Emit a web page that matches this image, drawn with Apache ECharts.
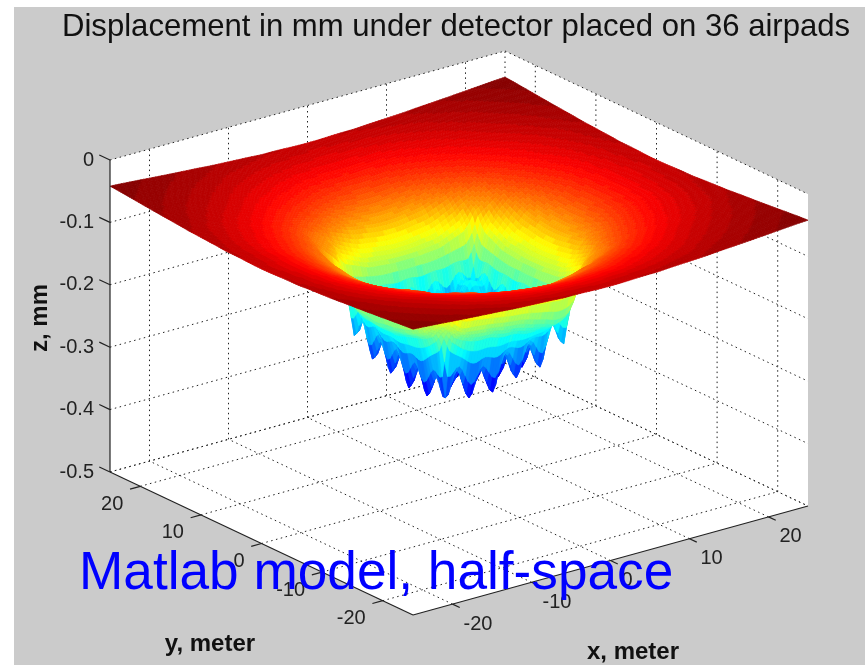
<!DOCTYPE html>
<html><head><meta charset="utf-8">
<style>html,body{margin:0;padding:0;background:#fff}#c{width:865px;height:665px}</style>
<script src="https://cdn.jsdelivr.net/npm/echarts@6/dist/echarts.min.js"></script>
</head><body><div id="c"></div>
<script>
// ---- data ----
const titleText = 'Displacement in mm under detector placed on 36 airpads';
const noteText = 'Matlab model, half-space';
const xTicks = [-20,-10,0,10,20];
const yTicks = [-20,-10,0,10,20];
const zTicks = [0,-0.1,-0.2,-0.3,-0.4,-0.5];
const zTickLabels = ['0','-0.1','-0.2','-0.3','-0.4','-0.5'];
// distances from the centre at which the displacement was read (metres)
const nodes = [0,1.5,3,4.5,6,7.5,8.25,9,10.5,12,14,16,18.5,21.5,25];
// displacement (mm), one row per node of |x|, one column per node of |y|
const row00 = [-.255,-.262,-.250,-.250,-.240,-.225,-.200,-.175,-.155,-.132,-.112,-.0966,-.0825,-.070,-.060];
const row01 = [-.262,-.310,-.262,-.305,-.255,-.260,-.203,-.175,-.154,-.131,-.111,-.096,-.082,-.0698,-.0598];
const row02 = [-.250,-.262,-.245,-.250,-.238,-.225,-.200,-.173,-.151,-.128,-.109,-.0945,-.081,-.069,-.059];
const row03 = [-.250,-.305,-.250,-.300,-.245,-.255,-.200,-.171,-.148,-.125,-.106,-.092,-.0802,-.0686,-.0585];
const row04 = [-.240,-.255,-.238,-.245,-.218,-.220,-.195,-.163,-.140,-.118,-.102,-.0895,-.0785,-.0675,-.0583];
const row05 = [-.225,-.260,-.225,-.255,-.220,-.245,-.195,-.155,-.130,-.111,-.097,-.086,-.0759,-.0665,-.057];
const row06 = [-.200,-.203,-.200,-.200,-.195,-.195,-.175,-.143,-.122,-.106,-.0945,-.0845,-.0747,-.0657,-.0565];
const row07 = [-.175,-.175,-.173,-.171,-.163,-.155,-.143,-.126,-.116,-.1037,-.092,-.083,-.0735,-.065,-.056];
const row08 = [-.155,-.154,-.151,-.148,-.140,-.130,-.122,-.116,-.107,-.097,-.0875,-.0795,-.071,-.063,-.055];
const row09 = [-.132,-.131,-.128,-.125,-.118,-.111,-.106,-.1037,-.097,-.0904,-.083,-.0759,-.0686,-.0615,-.054];
const row10 = [-.112,-.111,-.109,-.106,-.102,-.097,-.0945,-.092,-.0875,-.083,-.0767,-.071,-.065,-.0583,-.052];
const row11 = [-.0966,-.096,-.0945,-.092,-.0895,-.086,-.0845,-.083,-.0795,-.0759,-.071,-.066,-.061,-.0557,-.0503];
const row12 = [-.0825,-.082,-.081,-.0802,-.0785,-.0759,-.0747,-.0735,-.071,-.0686,-.065,-.061,-.057,-.0525,-.048];
const row13 = [-.070,-.0698,-.069,-.0686,-.0675,-.0665,-.0657,-.065,-.063,-.0615,-.0583,-.0557,-.0525,-.049,-.045];
const row14 = [-.060,-.0598,-.059,-.0585,-.0583,-.057,-.0565,-.056,-.055,-.054,-.052,-.0503,-.048,-.045,-.042];
const quarter = [row00,row01,row02,row03,row04,row05,row06,row07,row08,row09,row10,row11,row12,row13,row14];
// readings along the front pad rows, where the drop hangs clear of the surface
const frontRowY = [7.5,6,4.5,3,1.5,0,-1.5,-3,-4.5,-6,-7.5];
const frontRowLeftZ = [-.262,-.223,-.286,-.249,-.295,-.256,-.305,-.264,-.304,-.267,-.2935];
const frontRowX = [-6,-4.5,-3,-1.5,0,1.5,3,4.5,6,7.5];
const frontRowRightZ = [-.254,-.304,-.264,-.305,-.246,-.293,-.240,-.286,-.219,-.259];
// readings on the visible front wall, from its colours and page height
const wallYs = [7.5,6,4.5,3,1.5,0,-1.5,-3,-4.5,-6,-7.5,-8.25,-9,-10.5];
const wallLeft105 = [-.145,-.165,-.18,-.19,-.192,-.195,-.192,-.19,-.186,-.18,-.172,-.162,-.152,-.140];
const wallLeft90  = [-.17,-.19,-.205,-.21,-.215,-.215,-.215,-.21,-.205,-.20,-.19,-.178,-.168,-.152];
const wallLeft825 = [-.195,-.205,-.23,-.225,-.24,-.235,-.245,-.24,-.245,-.23,-.215,-.192,-.178,-.162];
const wallXs = [-10.5,-9,-8.25,-7.5,-6,-4.5,-3,-1.5,0,1.5,3,4.5,6,7.5];
const wallRight105 = [-.140,-.152,-.162,-.168,-.170,-.172,-.175,-.178,-.18,-.185,-.19,-.195,-.185,-.14];
const wallRight90  = [-.152,-.168,-.178,-.19,-.20,-.205,-.205,-.21,-.21,-.215,-.215,-.215,-.20,-.165];
const wallRight825 = [-.162,-.178,-.192,-.215,-.23,-.245,-.24,-.245,-.235,-.24,-.23,-.23,-.21,-.195];

// ---- view: orthographic projection of the plot box onto the page ----
const view = {x0:459,y0:489,xx:7.9,xy:-2.18,yx:-6.06,yy:-2.86,zy:-624,zFloor:-0.5,lim:25,cMin:-0.33,cMax:-0.041};
const project = (x,y,z)=>[view.x0+view.xx*x+view.yx*y, view.y0+view.xy*x+view.yy*y+view.zy*(z-view.zFloor)];

// mirror the quarter table to the whole surface, then apply the front readings
const grid = nodes.slice(1).reverse().map(v=>-v).concat(nodes);
const nAll = grid.length;
const leftWalls = new Map([[-10.5,wallLeft105],[-9,wallLeft90],[-8.25,wallLeft825]]);
const rightWalls = new Map([[-10.5,wallRight105],[-9,wallRight90],[-8.25,wallRight825]]);
const zAt = (a,b)=>{
  const n = nodes.length-1, gx=grid[a], gy=grid[b];
  if(gx===-7.5){ const k=frontRowY.indexOf(gy); if(k>=0) return frontRowLeftZ[k]; }
  if(gy===-7.5){ const k=frontRowX.indexOf(gx); if(k>=0) return frontRowRightZ[k]; }
  if(leftWalls.has(gx)){ const k=wallYs.indexOf(gy); if(k>=0) return leftWalls.get(gx)[k]; }
  if(rightWalls.has(gy)){ const k=wallXs.indexOf(gx); if(k>=0) return rightWalls.get(gy)[k]; }
  return quarter[Math.abs(a-n)][Math.abs(b-n)];
};
const clampI = v=>Math.max(0,Math.min(nAll-1,v));
const cr = (p0,p1,p2,p3,t)=>0.5*((2*p1)+(-p0+p2)*t+(2*p0-5*p1+4*p2-p3)*t*t+(-p0+3*p1-3*p2+p3)*t*t*t);
function smooth(a,s,b,t){
  const col = [];
  for(let k=-1;k<=2;k++){
    const A = clampI(a+k);
    col.push(cr(zAt(A,clampI(b-1)),zAt(A,b),zAt(A,clampI(b+1)),zAt(A,clampI(b+2)),t));
  }
  return cr(col[0],col[1],col[2],col[3],s);
}
const jet = t=>{
  const c = v=>Math.round(255*Math.max(0,Math.min(1,v)));
  return 'rgb('+c(Math.min(4*t-1.5,-4*t+4.5))+','+c(Math.min(4*t-0.5,-4*t+3.5))+','+c(Math.min(4*t+0.5,-4*t+2.5))+')';
};
const bandColor = z=>{
  const t = (z-view.cMin)/(view.cMax-view.cMin);
  const k = Math.max(0,Math.min(63,Math.floor(t*64)));
  return jet((k+0.5)/64);
};
const steps = i=>Math.ceil((grid[i+1]-grid[i])/0.375);

// back-to-front list of cells
const cells = [];
for(let i=nAll-2;i>=0;i--) for(let j=nAll-2;j>=0;j--) cells.push([i,j]);

function renderCell(params,api){
  const i = api.value(0), j = api.value(1);
  const ni = steps(i), nj = steps(j);
  const pts = [];
  for(let a=0;a<=ni;a++){
    const s=a/ni, row=[];
    const x=grid[i]+(grid[i+1]-grid[i])*s;
    for(let b=0;b<=nj;b++){
      const t=b/nj, y=grid[j]+(grid[j+1]-grid[j])*t;
      const z=smooth(i,s,j,t);
      row.push({p:api.coord(project(x,y,z)),z});
    }
    pts.push(row);
  }
  const children=[];
  for(let a=ni-1;a>=0;a--) for(let b=nj-1;b>=0;b--){
    const q=[pts[a][b],pts[a+1][b],pts[a+1][b+1],pts[a][b+1]];
    const col=bandColor((q[0].z+q[1].z+q[2].z+q[3].z)/4);
    children.push({type:'polygon',shape:{points:q.map(o=>o.p)},style:{fill:col,stroke:col,lineWidth:0.7}});
  }
  return {type:'group',children};
}

const FONT='"Liberation Sans",Arial,sans-serif';
function renderFrame(params,api){
  const P=(x,y,z)=>api.coord(project(x,y,z));
  const L=view.lim, top=0, bot=view.zFloor;
  const children=[{type:'polygon',shape:{points:[P(-L,L,top),P(L,L,top),P(L,-L,top),P(L,-L,bot),P(-L,-L,bot),P(-L,L,bot)]},style:{fill:'#fff'}}];
  const dot=(a,b)=>children.push({type:'line',shape:{x1:a[0],y1:a[1],x2:b[0],y2:b[1]},style:{stroke:'#222',lineWidth:1,lineDash:[1.5,3.5]}});
  xTicks.forEach(v=>{dot(P(v,-L,bot),P(v,L,bot));dot(P(v,L,bot),P(v,L,top));});
  yTicks.forEach(v=>{dot(P(-L,v,bot),P(L,v,bot));dot(P(L,v,bot),P(L,v,top));});
  zTicks.forEach(v=>{dot(P(-L,L,v),P(L,L,v));dot(P(L,L,v),P(L,-L,v));});
  dot(P(-L,L,bot),P(L,L,bot));dot(P(L,L,bot),P(L,-L,bot));dot(P(L,L,bot),P(L,L,top));
  return {type:'group',children};
}
function renderAxes(params,api){
  const P=(x,y,z)=>api.coord(project(x,y,z));
  const L=view.lim, top=0, bot=view.zFloor;
  const children=[];
  const line=(a,b)=>children.push({type:'line',shape:{x1:a[0],y1:a[1],x2:b[0],y2:b[1]},style:{stroke:'#222',lineWidth:1.2}});
  const text=(s,p,align)=>children.push({type:'text',style:{text:s,x:p[0],y:p[1],font:'20px '+FONT,fill:'#222',align,verticalAlign:'middle'}});
  line(P(-L,L,top),P(-L,L,bot));
  line(P(-L,L,bot),P(-L,-L,bot));
  line(P(-L,-L,bot),P(L,-L,bot));
  zTicks.forEach((v,k)=>{
    const p=P(-L,L,v);
    line(p,P(-L,L+1.77,v));
    text(zTickLabels[k],[p[0]-16,p[1]],'right');
  });
  yTicks.forEach(v=>{
    const p=P(-L,v,bot);
    line(p,P(-L-1.3,v,bot));
    text(String(v),[p[0]-17,p[1]+18],'right');
  });
  xTicks.forEach(v=>{
    const p=P(v,-L,bot);
    line(p,P(v,-L-1.2,bot));
    text(String(v),[p[0]+11,p[1]+20],'left');
  });
  return {type:'group',children};
}
const chart=echarts.init(document.getElementById('c'),null,{renderer:'canvas'});
chart.setOption({
  animation:false,
  backgroundColor:'#fff',
  title:{text:titleText,left:62,top:12,padding:0,textStyle:{fontFamily:FONT,fontSize:31.1,fontWeight:'normal',color:'#111'}},
  grid:{left:0,right:0,top:0,bottom:0},
  xAxis:{type:'value',min:0,max:865,show:false},
  yAxis:{type:'value',min:0,max:665,inverse:true,show:false},
  tooltip:{show:false},
  graphic:{elements:[
    {type:'rect',z:-10,shape:{x:14,y:7,width:851,height:658},style:{fill:'#cbcbcb'}},
    {type:'text',z:20,style:{text:'z, mm',x:40,y:318,font:'bold 24px '+FONT,fill:'#111',align:'center',verticalAlign:'middle'},rotation:Math.PI/2,x:0,y:0,originX:40,originY:318},
    {type:'text',z:20,style:{text:'y, meter',x:210,y:644,font:'bold 24px '+FONT,fill:'#111',align:'center',verticalAlign:'middle'}},
    {type:'text',z:20,style:{text:'x, meter',x:633,y:652,font:'bold 24px '+FONT,fill:'#111',align:'center',verticalAlign:'middle'}},
    {type:'text',z:30,style:{text:noteText,x:79,y:574,font:'53.2px '+FONT,fill:'#0000ff',align:'left',verticalAlign:'middle'}}
  ]},
  series:[
    {type:'custom',coordinateSystem:'cartesian2d',silent:true,data:[[0,0]],renderItem:renderFrame,clip:false,z:2},
    {type:'custom',coordinateSystem:'cartesian2d',silent:true,data:cells,renderItem:renderCell,clip:false,z:3,progressive:0},
    {type:'custom',coordinateSystem:'cartesian2d',silent:true,data:[[0,0]],renderItem:renderAxes,clip:false,z:4}
  ]
});
</script></body></html>
